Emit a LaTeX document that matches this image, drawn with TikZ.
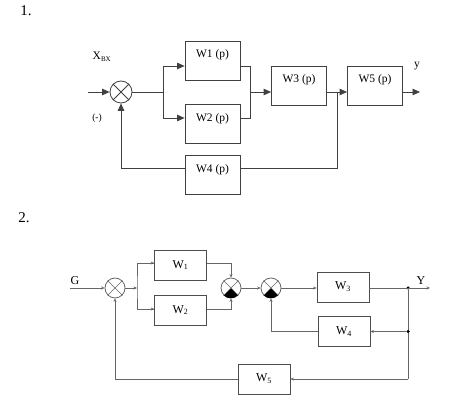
\documentclass[tikz,border=0pt]{standalone}
\usepackage{fontspec}
\setmainfont{Liberation Serif}
\usetikzlibrary{arrows.meta,calc}
\tikzset{
  lineA/.style={draw=black!75, line width=0.8pt},
  lineB/.style={draw=black!60, line width=0.7pt},
  arrA/.style={lineA, -{Triangle[length=7.5pt,width=6.5pt]}},
  arrB/.style={lineB, -{Stealth[length=3.5pt,width=3pt]}},
  boxA/.style={draw=black!75, line width=0.8pt, minimum width=55pt, text height=8pt, text depth=13pt, inner ysep=9pt, inner xsep=0pt, font=\fontsize{11.5}{13}\selectfont},
  boxB/.style={draw=black!70, line width=0.8pt, minimum width=52pt, minimum height=30pt, inner sep=0pt, font=\fontsize{12}{14}\selectfont},
  sumA/.style={circle, draw=black!75, line width=0.8pt, minimum size=22pt, inner sep=0pt},
  sumB/.style={circle, draw=black!65, line width=0.7pt, minimum size=20pt, inner sep=0pt},
  dot/.style={circle, fill=black, minimum size=3.5pt, inner sep=0pt},
  lbl/.style={inner sep=0pt},
  num/.style={inner sep=0pt, font=\fontsize{15}{17}\selectfont},
}
\begin{document}
\begin{tikzpicture}[x=1pt,y=-1pt]
\useasboundingbox (0,0) rectangle (458,406);
% ---------- Diagram 1 ----------
\node[num] (n1) at (26,11) {1.};
\node[lbl, font=\fontsize{11.5}{13}\selectfont] (xbx) at (102,57) {X\textsubscript{\scriptsize BX}};
\node[lbl, font=\fontsize{9.5}{11}\selectfont] (minus) at (97,118) {(-)};
\coordinate (in1) at (88,92);
\node[sumA] (s1) at (121,92) {};
\draw[lineA] (s1.45) -- (s1.225) (s1.135) -- (s1.315);
\coordinate (b1) at (163,92);
\node[boxA] (w1) at (212.5,60.5) {W1 (p)};
\node[boxA] (w2) at (212.5,124) {W2 (p)};
\node[boxA] (w4) at (212.5,175) {W4 (p)};
\node[boxA] (w3) at (299,85.5) {W3 (p)};
\node[boxA] (w5) at (375,85.5) {W5 (p)};
\coordinate (m1) at (250.5,92);
\coordinate (j1) at (337,92);
\coordinate (out1) at (420,92);
\node[lbl, font=\fontsize{11.5}{13}\selectfont] (y1) at (417,66) {y};
\draw[arrA] (in1) -- (s1.west);
\draw[lineA] (s1.east) -- (b1);
\draw[arrA] (b1) |- (w1.west |- 0,66);
\draw[arrA] (b1) |- (w2.west |- 0,118);
\draw[lineA] (w1.east |- 0,66) -| (m1);
\draw[lineA] (w2.east |- 0,118) -| (m1);
\draw[arrA] (m1) -- (w3.west |- m1);
\draw[arrA] (w3.east |- j1) -- (w5.west |- j1);
\draw[lineA] (w4.east |- 0,168) -| (j1);
\draw[arrA] (w4.west |- 0,168) -| (s1.south);
\draw[arrA] (w5.east |- out1) -- (out1);
% ---------- Diagram 2 ----------
\node[num] (n2) at (24,218) {2.};
\node[lbl, font=\fontsize{12}{14}\selectfont] (g) at (75,281) {G};
\coordinate (in2) at (70,288);
\node[sumB] (sa) at (115,288) {};
\draw[lineB] (sa.45) -- (sa.225) (sa.135) -- (sa.315);
\coordinate (b2) at (137,288);
\node[boxB] (v1) at (180.5,265) {W\textsubscript{1}};
\node[boxB] (v2) at (180.5,310) {W\textsubscript{2}};
\node[sumB] (sb) at (231,288) {};
\fill (sb.center) -- (sb.225) arc[start angle=225, end angle=315, radius=10pt] -- cycle;
\draw[lineB] (sb.45) -- (sb.225) (sb.135) -- (sb.315);
\node[sumB] (sc) at (271,288) {};
\fill (sc.center) -- (sc.225) arc[start angle=225, end angle=315, radius=10pt] -- cycle;
\draw[lineB] (sc.45) -- (sc.225) (sc.135) -- (sc.315);
\node[boxB] (v3) at (343,287) {W\textsubscript{3}};
\node[boxB] (v4) at (344,331.5) {W\textsubscript{4}};
\node[boxB] (v5) at (264,379) {W\textsubscript{5}};
\node[dot] (d1) at (408,288) {};
\node[dot] (d2) at (408,331.5) {};
\coordinate (c3) at (408,379);
\coordinate (out2) at (430,288);
\node[lbl, font=\fontsize{12}{14}\selectfont] (yy) at (421,281) {Y};
\draw[arrB] (in2) -- (sa.west);
\draw[arrB] (sa.east) -- (b2);
\draw[lineB] (v1.west |- 0,263) -| (b2) |- (v2.west |- 0,309);
\draw[arrB] (b2 |- 0,263) -- (v1.west |- 0,263);
\draw[arrB] (b2 |- 0,309) -- (v2.west |- 0,309);
\draw[arrB] (v1.east |- 0,263) -| (sb.north);
\draw[arrB] (v2.east |- 0,309) -| (sb.south);
\draw[arrB] (sb.east) -- (sc.west);
\draw[arrB] (sc.east) -- (v3.west |- sc);
\draw[arrB] (v3.east |- d1) -- (out2);
\draw[lineB] (d1) -- (d2) -- (c3);
\draw[arrB] (d2) -- (v4.east);
\draw[arrB] (v4.west) -| (sc.south);
\draw[arrB] (c3) -- (v5.east);
\draw[arrB] (v5.west) -| (sa.south);
\end{tikzpicture}
\end{document}
